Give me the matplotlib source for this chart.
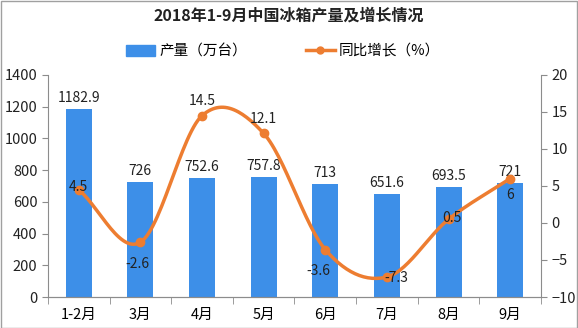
import numpy as np
import matplotlib
matplotlib.use("Agg")
import matplotlib.pyplot as plt
from matplotlib.lines import Line2D
from matplotlib.patches import Patch

plt.rcParams['font.family'] = ['Noto Sans CJK SC', 'DejaVu Sans']

categories = ['1-2月', '3月', '4月', '5月', '6月', '7月', '8月', '9月']
production = [1182.9, 726, 752.6, 757.8, 713, 651.6, 693.5, 721]
growth = [4.5, -2.6, 14.5, 12.1, -3.6, -7.3, 0.5, 6]
growth_labels = ['4.5', '-2.6', '14.5', '12.1', '-3.6', '-7.3', '0.5', '6']

bar_color = '#3D8FE8'
line_color = '#ED7D31'
axis_color = '#8C8C8C'

fig = plt.figure(figsize=(5.78, 3.28), dpi=100)
ax = fig.add_axes([0.083, 0.0945, 0.853, 0.677])
ax2 = ax.twinx()

x = np.arange(len(categories))
ax.bar(x, production, width=0.42, color=bar_color, zorder=2)
for xi, v in zip(x, production):
    ax.text(xi, v + 25, f'{v:g}', ha='center', va='bottom', fontsize=10, color='#222222')

ax.set_xlim(-0.5, len(categories) - 0.5)
ax.set_ylim(0, 1400)
ax.set_yticks(range(0, 1401, 200))
ax2.set_ylim(-10, 20)
ax2.set_yticks(range(-10, 21, 5))

# smooth (Catmull-Rom) curve through the data points
def catmull(xs, ys, n=30):
    xs = np.asarray(xs, float); ys = np.asarray(ys, float)
    px = np.concatenate([[2*xs[0]-xs[1]], xs, [2*xs[-1]-xs[-2]]])
    py = np.concatenate([[2*ys[0]-ys[1]], ys, [2*ys[-1]-ys[-2]]])
    ox, oy = [], []
    t = np.linspace(0, 1, n)
    for i in range(1, len(px) - 2):
        for P, out in ((px, ox), (py, oy)):
            p0, p1, p2, p3 = P[i-1], P[i], P[i+1], P[i+2]
            out.extend(0.5*((2*p1) + (-p0+p2)*t + (2*p0-5*p1+4*p2-p3)*t**2 + (-p0+3*p1-3*p2+p3)*t**3))
    return np.array(ox), np.array(oy)

sx, sy = catmull(x, growth)
ax2.plot(sx, sy, color=line_color, lw=2.5, zorder=3)
ax2.plot(x, growth, 'o', color=line_color, ms=6, zorder=4)

offsets = [(0, 0.3), (-0.05, -3.0), (0, 2.0), (0, 2.0), (-0.12, -2.9), (0.15, -0.2), (0.05, 0.2), (0, -2.2)]
for xi, v, lab, (dx, dy) in zip(x, growth, growth_labels, offsets):
    ax2.text(xi + dx, v + dy, lab, ha='center', va='center', fontsize=10, color='#222222', zorder=5)

for a in (ax, ax2):
    a.spines['top'].set_visible(False)
    for s in ('left', 'right', 'bottom'):
        a.spines[s].set_color(axis_color)
    a.tick_params(axis='y', colors='#222222', labelsize=10.5, length=4, color=axis_color)
ax.spines['right'].set_visible(False)
ax2.spines['left'].set_visible(False)

ax.set_xticks(x)
ax.set_xticklabels(categories, fontsize=10.5)
ax.tick_params(axis='x', length=0, pad=8)
ax.set_xticks(np.arange(-0.5, len(categories), 1), minor=True)
ax.tick_params(axis='x', which='minor', length=5, color=axis_color)

fig.text(0.5, 0.952, '2018年1-9月中国冰箱产量及增长情况', ha='center', va='center',
         fontsize=11.5, fontweight='bold', color='#222222')

handles = [Patch(color=bar_color, label='产量（万台）'),
           Line2D([0], [0], color=line_color, lw=2.5, marker='o', ms=5, label='同比增长（%）')]
fig.legend(handles=handles, loc='center', bbox_to_anchor=(0.49, 0.843), ncol=2, frameon=False,
           fontsize=10.5, handlelength=2.0, columnspacing=4.0, handletextpad=0.3)

fig.patches.append(plt.Rectangle((0.001, 0.001), 0.997, 0.997, transform=fig.transFigure,
                                 fill=False, edgecolor='#A0A0A0', lw=1))
fig.savefig('out.png', dpi=100)
